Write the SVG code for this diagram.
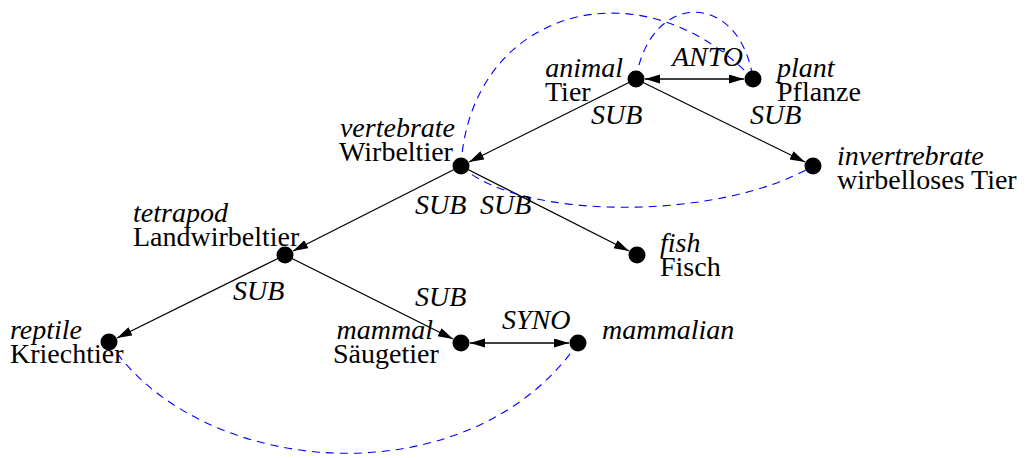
<svg xmlns="http://www.w3.org/2000/svg" width="1026" height="458" viewBox="0 0 1026 458">
<style>
.i{font-style:italic}
.e{stroke:#000;stroke-width:1.3;fill:none}
.d{stroke:#0000ff;stroke-width:1.1;fill:none;stroke-dasharray:8,6}
.n{fill:#000}
</style>
<defs>
<marker id="ah" markerUnits="userSpaceOnUse" markerWidth="16" markerHeight="10" refX="15" refY="4.5" orient="auto-start-reverse">
<path d="M0,0 L15,4.5 L0,9 z" fill="#000"/>
</marker>
</defs>
<rect width="1026" height="458" fill="#fff"/>
<g font-family="'Liberation Serif', 'DejaVu Serif', serif" font-size="28" fill="#000">
<g id="connectors">
<line class="e" x1="636" y1="79" x2="469" y2="162" marker-end="url(#ah)"/>
<line class="e" x1="636" y1="79" x2="805" y2="162" marker-end="url(#ah)"/>
<line class="e" x1="461" y1="166" x2="293" y2="251" marker-end="url(#ah)"/>
<line class="e" x1="461" y1="166" x2="629" y2="251" marker-end="url(#ah)"/>
<line class="e" x1="285" y1="255" x2="117" y2="338" marker-end="url(#ah)"/>
<line class="e" x1="285" y1="255" x2="453" y2="339" marker-end="url(#ah)"/>
<line class="e" x1="645" y1="79" x2="744" y2="79" marker-start="url(#ah)" marker-end="url(#ah)"/>
<line class="e" x1="470" y1="343" x2="569" y2="343" marker-start="url(#ah)" marker-end="url(#ah)"/>
<path class="d" d="M461,166 C470,10 640,-40 753,79"/>
<path class="d" d="M636,79 C650,-10 740,-10 753,79"/>
<path class="d" d="M461,166 C520,221 720,221 813,166"/>
<path class="d" d="M109,342 C200,480 470,500 578,343"/>
<text class="i" x="672" y="66">ANTO</text>
<text class="i" x="591" y="124">SUB</text>
<text class="i" x="750" y="124">SUB</text>
<text class="i" x="415" y="214">SUB</text>
<text class="i" x="480" y="214">SUB</text>
<text class="i" x="233" y="300">SUB</text>
<text class="i" x="415" y="306">SUB</text>
<text class="i" x="502" y="329">SYNO</text>
</g>
<g id="animal"><circle class="n" cx="636" cy="79" r="8.5"/><text class="i" x="623" y="77" text-anchor="end">animal</text><text x="545" y="101">Tier</text></g>
<g id="plant"><circle class="n" cx="753" cy="79" r="8.5"/><text class="i" x="777" y="77">plant</text><text x="777" y="101">Pflanze</text></g>
<g id="vertebrate"><circle class="n" cx="461" cy="166" r="8.5"/><text class="i" x="455" y="137" text-anchor="end">vertebrate</text><text x="339" y="161">Wirbeltier</text></g>
<g id="invertrebrate"><circle class="n" cx="813" cy="166" r="8.5"/><text class="i" x="837" y="165">invertrebrate</text><text x="837" y="189">wirbelloses Tier</text></g>
<g id="tetrapod"><circle class="n" cx="285" cy="255" r="8.5"/><text class="i" x="133" y="222">tetrapod</text><text x="133" y="246">Landwirbeltier</text></g>
<g id="fish"><circle class="n" cx="637" cy="255" r="8.5"/><text class="i" x="660" y="252">fish</text><text x="660" y="276">Fisch</text></g>
<g id="reptile"><circle class="n" cx="109" cy="342" r="8.5"/><text class="i" x="10" y="339">reptile</text><text x="10" y="363">Kriechtier</text></g>
<g id="mammal"><circle class="n" cx="461" cy="343" r="8.5"/><text class="i" x="433" y="339" text-anchor="end">mammal</text><text x="333" y="363">Säugetier</text></g>
<g id="mammalian"><circle class="n" cx="578" cy="343" r="8.5"/><text class="i" x="602" y="339">mammalian</text></g>
</g>
</svg>
